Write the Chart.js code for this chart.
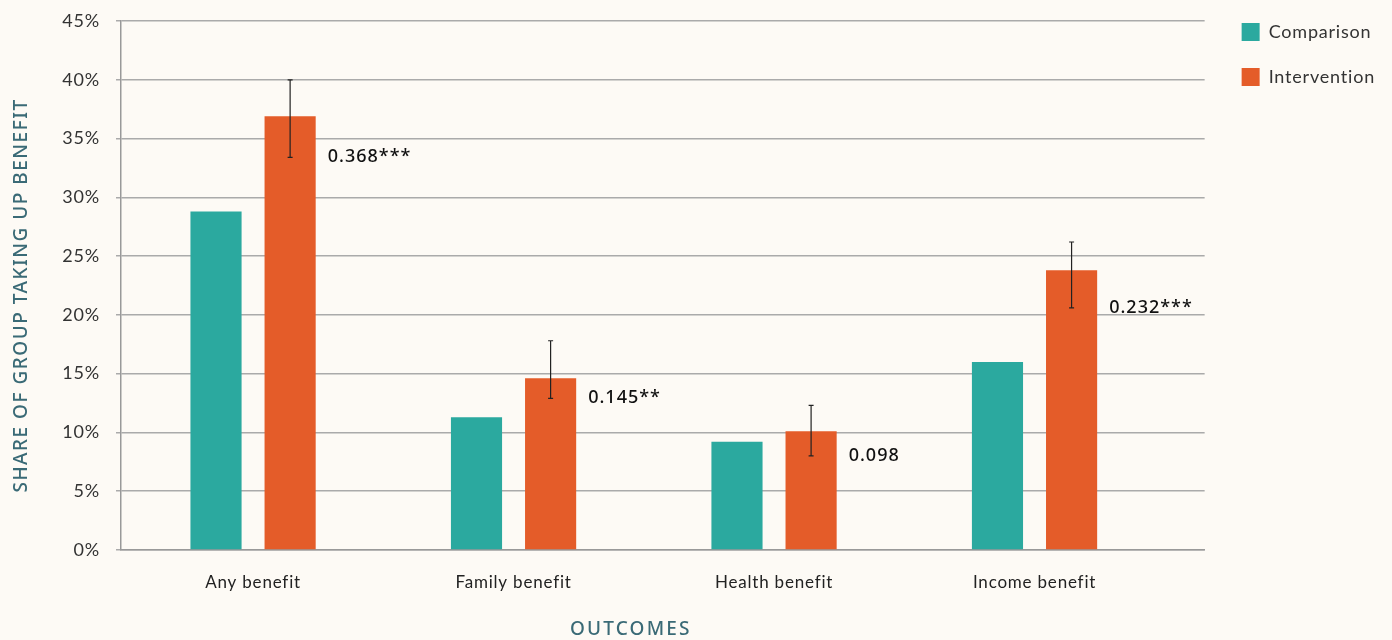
<!DOCTYPE html>
<html>
<head>
<meta charset="utf-8">
<script src="https://cdn.jsdelivr.net/npm/chart.js@4.4.1/dist/chart.umd.min.js"></script>
<style>
  html, body { margin: 0; padding: 0; background: #fdfaf5; }
  #wrap { width: 1392px; height: 640px; }
</style>
</head>
<body>
<div id="wrap"><canvas id="myChart" width="1392" height="640"></canvas></div>
<script>
var categories = ["Any benefit", "Family benefit", "Health benefit", "Income benefit"];
var comparison = [28.8, 11.3, 9.2, 16.0];
var intervention = [36.9, 14.6, 10.1, 23.8];
var errLow = [33.4, 12.9, 8.0, 20.6];
var errHigh = [40.0, 17.8, 12.3, 26.2];
var sigLabels = ["0.368***", "0.145**", "0.098", "0.232***"];
var yTicks = [0, 5, 10, 15, 20, 25, 30, 35, 40, 45];
var yTitle = 'SHARE OF GROUP TAKING UP BENEFIT';
var xTitle = 'OUTCOMES';

var titleColor = '#3a6a76';
var gridColor = '#aaaaaa';

// slightly wider text everywhere, like the original typeface
var spacing = {
  id: 'spacing',
  beforeUpdate: function(chart) { chart.ctx.letterSpacing = '0.8px'; },
  beforeDraw: function(chart) { chart.ctx.letterSpacing = '0.8px'; }
};

// move the legend next to the plot, level with its top
var legendPos = {
  id: 'legendPos',
  afterLayout: function(chart) {
    chart.legend.left = chart.chartArea.right + 10;
    chart.legend.top = chart.chartArea.top - 25;
  }
};

var errorBars = {
  id: 'errorBars',
  afterDatasetsDraw: function(chart) {
    var ctx = chart.ctx;
    var y = chart.scales.y;
    var area = chart.chartArea;
    var meta = chart.getDatasetMeta(1);
    ctx.save();
    meta.data.forEach(function(bar, i) {
      var top = y.getPixelForValue(errHigh[i]);
      var bot = y.getPixelForValue(errLow[i]);
      ctx.strokeStyle = '#222';
      ctx.lineWidth = 1.2;
      ctx.beginPath();
      ctx.moveTo(bar.x, top); ctx.lineTo(bar.x, bot);
      ctx.moveTo(bar.x - 2.5, top); ctx.lineTo(bar.x + 2.5, top);
      ctx.moveTo(bar.x - 2.5, bot); ctx.lineTo(bar.x + 2.5, bot);
      ctx.stroke();
      ctx.fillStyle = '#111';
      ctx.letterSpacing = '1px';
      ctx.font = '500 18px "Noto Sans"';
      ctx.textAlign = 'left';
      ctx.textBaseline = 'middle';
      ctx.fillText(sigLabels[i], bar.x + bar.width / 2 + 12, bot);
    });

    // axis titles
    ctx.fillStyle = titleColor;
    ctx.font = '500 19px "Noto Sans"';
    ctx.textAlign = 'center';
    ctx.textBaseline = 'middle';
    ctx.letterSpacing = '2.2px';
    ctx.fillText(xTitle, area.left + (area.right - area.left) / 2 - 32, chart.height - 10);
    ctx.letterSpacing = '1.5px';
    ctx.translate(22, (area.top + area.bottom) / 2 + 10);
    ctx.rotate(-Math.PI / 2);
    ctx.fillText(yTitle, 0, 0);
    ctx.restore();
  }
};

var ctx = document.getElementById("myChart");
var myChart = new Chart(ctx, {
  type: 'bar',
  data: {
    datasets: [{
      label: 'Comparison',
      data: categories.map(function(c, i) { return { x: i, y: comparison[i] }; }),
      backgroundColor: '#2ba99f'
    }, {
      label: 'Intervention',
      data: categories.map(function(c, i) { return { x: i, y: intervention[i] }; }),
      backgroundColor: '#e45c29'
    }]
  },
  options: {
    responsive: false,
    animation: false,
    categoryPercentage: 0.569,
    barPercentage: 0.69,
    layout: { padding: { top: 21, right: 17, left: 47, bottom: 30 } },
    plugins: {
      tooltip: { enabled: false },
      legend: {
        position: 'right',
        align: 'start',
        labels: {
          boxWidth: 18,
          boxHeight: 18,
          padding: 27,
          color: '#333',
          font: { family: 'Lato', size: 18 }
        }
      }
    },
    scales: {
      x: {
        type: 'linear',
        offset: false,
        min: -0.507,
        max: 3.653,
        afterBuildTicks: function(scale) {
          scale.ticks = categories.map(function(c, i) { return { value: i }; });
        },
        afterFit: function(scale) {
          scale.height = 60;
          scale.paddingLeft = 0;
          scale.paddingRight = 0;
        },
        grid: { display: false, offset: false },
        border: { display: true, color: '#999', width: 1.5 },
        ticks: {
          color: '#222',
          padding: 14,
          maxRotation: 0,
          font: { family: 'Lato', size: 17 },
          callback: function(v) { return categories[v]; }
        }
      },
      y: {
        min: 0,
        max: 45,
        afterBuildTicks: function(scale) {
          scale.ticks = yTicks.map(function(v) { return { value: v }; });
        },
        afterFit: function(scale) {
          scale.width = 74;
          scale.paddingTop = 0;
          scale.paddingBottom = 0;
        },
        grid: { color: gridColor, lineWidth: 1.5, tickLength: 5 },
        border: { display: true, color: '#999', width: 1.5 },
        ticks: {
          color: '#333',
          padding: 16,
          font: { family: 'Lato', size: 18 },
          callback: function(v) { return v + '%'; }
        }
      }
    }
  },
  plugins: [spacing, legendPos, errorBars]
});
</script>
</body>
</html>
